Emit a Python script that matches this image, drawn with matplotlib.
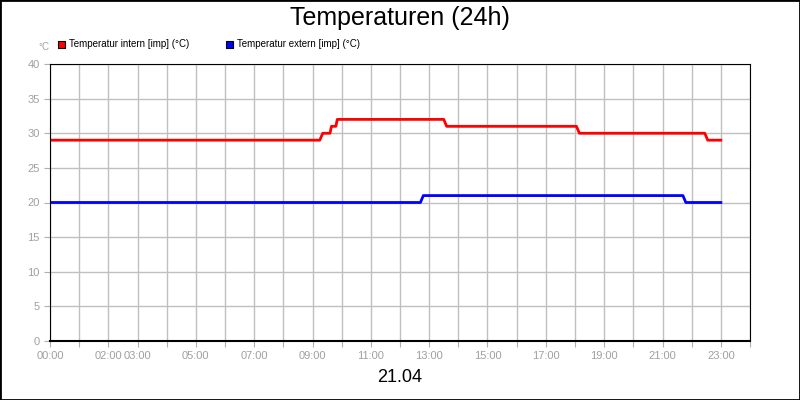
import matplotlib
matplotlib.use("Agg")
import matplotlib.pyplot as plt
from matplotlib.patches import Rectangle

plt.rcParams["font.family"] = "Liberation Sans"

# hours since 00:00
intern_t = [0, 9.25, 9.35, 9.6, 9.65, 9.8, 9.85, 13.5, 13.6, 18.05, 18.15, 22.45, 22.55, 23.0]
intern_v = [29, 29, 30, 30, 31, 31, 32, 32, 31, 31, 30, 30, 29, 29]
extern_t = [0, 12.7, 12.8, 21.7, 21.8, 23.0]
extern_v = [20, 20, 21, 21, 20, 20]
tick_hours = [0, 2, 3, 5, 7, 9, 11, 13, 15, 17, 19, 21, 23]

fig = plt.figure(figsize=(8, 4), dpi=100)
fig.patches.append(Rectangle((0, 0), 1, 1, transform=fig.transFigure, fill=False,
                             edgecolor="black", linewidth=2))
ax = fig.add_axes([50/800, 1-341/400, 700/800, 277/400])
ax.plot(intern_t, intern_v, color="#ff0000", lw=2)
ax.plot(extern_t, extern_v, color="#0000ff", lw=2)
ax.set_xlim(0, 24)
ax.set_ylim(0, 40)
ax.set_yticks(range(0, 41, 5))
ax.set_xticks(range(0, 25))
ax.set_xticklabels([("%02d:00" % h) if h in tick_hours else "" for h in range(25)])
ax.grid(True, color="#c0c0c0", lw=1)
ax.set_axisbelow(True)
ax.tick_params(colors="#b0b0b0", labelcolor="#a0a0a0", labelsize=8, length=4)
for s in ax.spines.values():
    s.set_color("black")
ax.spines["bottom"].set_linewidth(1.5)

fig.text(0.5, 1-18/400, "Temperaturen (24h)", ha="center", va="center", fontsize=18)
fig.text(0.5, 1-378/400, "21.04", ha="center", va="center", fontsize=13)
fig.text(38/800, 1-47/400, "°C", ha="left", va="center", fontsize=7, color="#a0a0a0")
fig.patches.append(Rectangle((58/800, 1-48/400), 7/800, 7/400, transform=fig.transFigure,
                             facecolor="#ff0000", edgecolor="black", lw=0.8))
fig.text(69/800, 1-44/400, "Temperatur intern [imp] (°C)", ha="left", va="center", fontsize=7)
fig.patches.append(Rectangle((226/800, 1-48/400), 7/800, 7/400, transform=fig.transFigure,
                             facecolor="#0000ff", edgecolor="black", lw=0.8))
fig.text(237/800, 1-44/400, "Temperatur extern [imp] (°C)", ha="left", va="center", fontsize=7)
fig.savefig("out.png", dpi=100)
